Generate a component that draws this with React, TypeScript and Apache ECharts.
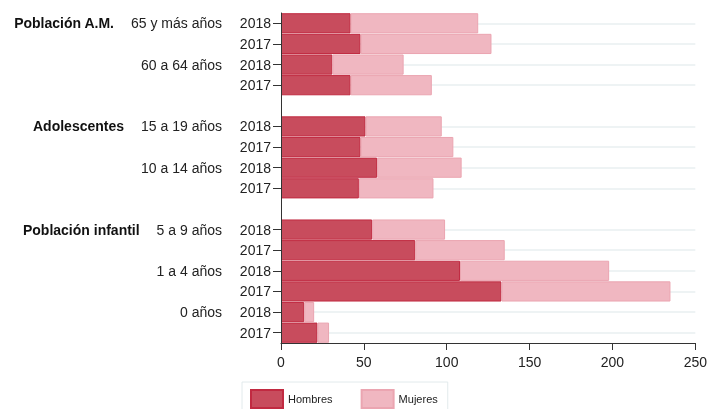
import React, { useEffect, useRef } from "react";
import * as echarts from "echarts";

const yearLabels = ["2018", "2017", "2018", "2017", "", "2018", "2017", "2018", "2017", "", "2018", "2017", "2018", "2017", "2018", "2017"];
const ageLabels = ["65 y más años", "", "60 a 64 años", "", "", "15 a 19 años", "", "10 a 14 años", "", "", "5 a 9 años", "", "1 a 4 años", "", "0 años", ""];
const groupLabels = ["Población A.M.", "", "", "", "", "Adolescentes", "", "", "", "", "Población infantil", "", "", "", "", ""];
const hombres = [42, 48, 31, 42, null, 51, 48, 58, 47, null, 55, 81, 108, 133, 14, 22];
const mujeres = [77, 79, 43, 49, null, 46, 56, 51, 45, null, 44, 54, 90, 102, 6, 7];
const xTicks = { min: 0, max: 250, interval: 50 };

const FONT = "Liberation Sans, Arial, sans-serif";

export default function App() {
  const ref = useRef<HTMLDivElement>(null);
  useEffect(() => {
    if (!ref.current) return;
    const chart = echarts.init(ref.current, null, { renderer: "svg" });
    const gridIdx = yearLabels
      .map((v, i) => (v !== "" ? i : -1))
      .filter((i) => i >= 0)
      .map((i) => ({ yAxis: i }));
    chart.setOption({
      animation: false,
      textStyle: { fontFamily: FONT },
      grid: { left: 281, right: 12, top: 13, bottom: 66, containLabel: false },
      legend: {
        left: 242,
        top: 382,
        padding: [7, 10, 7, 8],
        itemWidth: 32,
        itemHeight: 18,
        itemGap: 28,
        icon: "rect",
        borderColor: "#e2eaec",
        borderWidth: 1,
        textStyle: { fontSize: 11, color: "#222", fontFamily: FONT },
        data: ["Hombres", "Mujeres"],
      },
      xAxis: {
        type: "value",
        min: xTicks.min,
        max: xTicks.max,
        interval: xTicks.interval,
        axisLine: { show: true, lineStyle: { color: "#333", width: 1 } },
        axisTick: { show: true, length: 7, lineStyle: { color: "#333" } },
        axisLabel: { fontSize: 14, color: "#222", margin: 12, fontFamily: FONT },
        splitLine: { show: false },
      },
      yAxis: [
        {
          type: "category",
          data: yearLabels,
          inverse: true,
          z: 5,
          axisLine: { show: true, lineStyle: { color: "#333", width: 1 } },
          axisTick: {
            show: true,
            length: 8,
            alignWithLabel: true,
            interval: (index: number, value: string) => value !== "",
            lineStyle: { color: "#333" },
          },
          axisLabel: { fontSize: 14, color: "#222", margin: 10, interval: 0, fontFamily: FONT },
          splitLine: { show: false },
        },
        {
          type: "category",
          data: ageLabels,
          inverse: true,
          position: "left",
          offset: 50,
          axisLine: { show: false },
          axisTick: { show: false },
          splitLine: { show: false },
          axisLabel: {
            interval: 0,
            margin: 9,
            fontSize: 14,
            color: "#222",
            fontFamily: FONT,
            formatter: (value: string, index: number) => {
              const g = groupLabels[index];
              if (g) return `{g|${g}}{a|${value}}`;
              return value ? `{a|${value}}` : "";
            },
            rich: {
              g: { fontSize: 14, fontWeight: "bold", color: "#111", padding: [0, 17, 0, 0], fontFamily: FONT },
              a: { fontSize: 14, color: "#222", fontFamily: FONT },
            },
          },
        },
      ],
      series: [
        {
          name: "grid",
          type: "line",
          data: [],
          silent: true,
          z: 0,
          markLine: {
            silent: true,
            z: 0,
            symbol: ["none", "none"],
            label: { show: false },
            lineStyle: { color: "#e9eff1", width: 1.5, type: "solid" },
            data: gridIdx,
          },
        },
        {
          name: "Hombres",
          type: "bar",
          stack: "total",
          z: 3,
          barCategoryGap: "2%",
          data: hombres,
          itemStyle: { color: "#c84c5d", borderColor: "#c12a41", borderWidth: 1 },
        },
        {
          name: "Mujeres",
          type: "bar",
          stack: "total",
          z: 3,
          barCategoryGap: "2%",
          data: mujeres,
          itemStyle: { color: "#f0b7c1", borderColor: "#eba5b1", borderWidth: 1 },
        },
      ],
    });
    return () => chart.dispose();
  }, []);
  return <div ref={ref} style={{ position: "fixed", left: 0, top: 0, width: 710, height: 409 }} />;
}
